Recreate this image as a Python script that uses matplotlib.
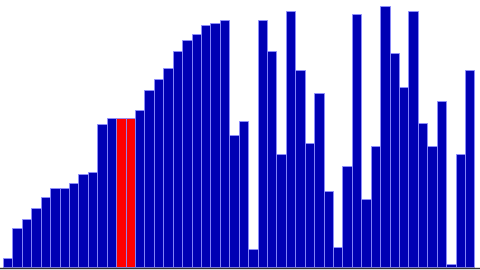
import matplotlib
matplotlib.use("Agg")
import matplotlib.pyplot as plt

values = [9, 39, 48, 59, 70, 79, 79, 84, 93, 95,
          143, 149, 149, 149, 157, 177, 188, 199, 216, 227,
          233, 242, 244, 247, 132, 146, 18, 247, 216, 113,
          256, 197, 124, 174, 76, 20, 101, 253, 68, 121,
          261, 214, 180, 256, 144, 121, 166, 3, 113, 197]
highlight = [12, 13]

colors = ['#ff0000' if i in highlight else '#0000b4' for i in range(len(values))]

fig = plt.figure(figsize=(4.8, 2.7), dpi=100)
ax = fig.add_axes([0, 2/270, 1, 268/270])
ax.bar(range(len(values)), values, width=1.0, color=colors,
       edgecolor='#8f8fff', linewidth=0.6)
ax.set_xlim(-0.5 - 3/9.43, -0.5 - 3/9.43 + 480/9.43)
ax.set_ylim(-1, 267)
for s in ['top', 'left', 'right']:
    ax.spines[s].set_visible(False)
ax.spines['bottom'].set_color('#333333')
ax.spines['bottom'].set_linewidth(1.0)
ax.set_xticks([])
ax.set_yticks([])
fig.savefig('out.png', dpi=100)
